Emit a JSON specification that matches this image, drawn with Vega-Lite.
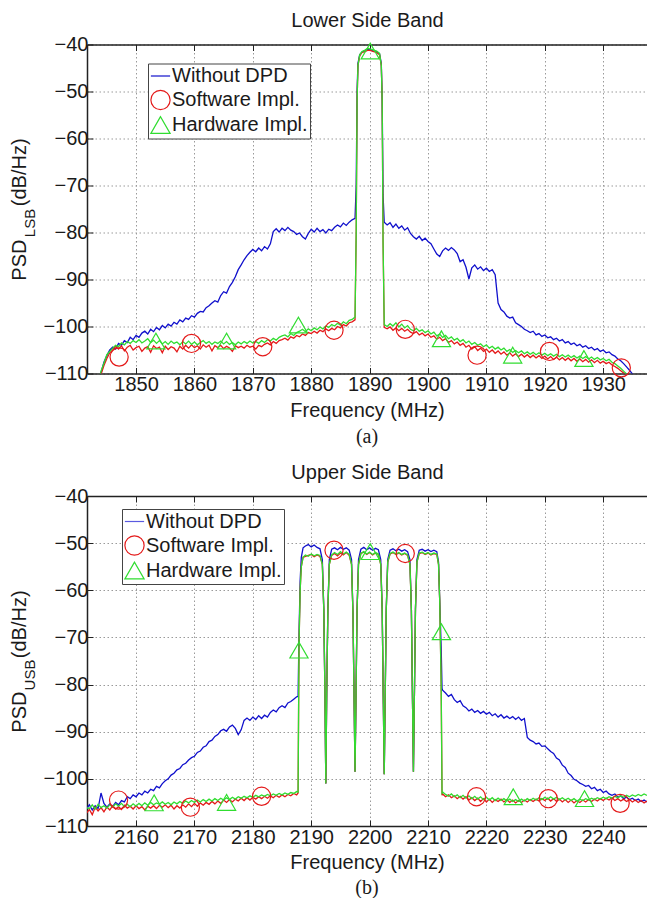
{
  "$schema": "https://vega.github.io/schema/vega-lite/v6.json",
  "background": "white",
  "padding": {"left": 9, "top": 10.5, "right": 0, "bottom": 0},
  "spacing": 14.5,
  "config": {
    "view": {"stroke": null},
    "font": "Liberation Sans",
    "axis": {
      "labelFont": "Liberation Sans", "labelFontSize": 20, "labelColor": "#1a1a1a",
      "titleFont": "Liberation Sans", "titleFontSize": 20, "titleFontWeight": "normal", "titleColor": "#1a1a1a",
      "domainColor": "#222", "domainWidth": 1.5, "tickColor": "#222", "tickSize": -6, "tickWidth": 1,
      "gridColor": "#9a9a9a", "gridDash": [1.5, 2.5], "gridWidth": 1, "gridOpacity": 1
    }
  },
  "resolve": {"scale": {"color": "independent", "shape": "independent", "stroke": "independent"}},
  "vconcat": [
    {
      "width": 560, "height": 329,
      "title": {"text": "(a)", "orient": "bottom", "font": "Liberation Serif", "fontSize": 20, "fontWeight": "normal", "color": "#1a1a1a", "offset": 7},
      "resolve": {"axis": {"x": "independent", "y": "independent"}},
      "layer": [
        {
          "data": {"values": [
            {"f":1843.5,"w":-112,"s":-112.5,"h":-112},
            {"f":1844.0,"w":-109.8,"s":-110.2,"h":-109.5},
            {"f":1844.5,"w":-107.6,"s":-108.3,"h":-107.8},
            {"f":1845.0,"w":-106.2,"s":-106.8,"h":-106.0},
            {"f":1845.5,"w":-105.0,"s":-105.6,"h":-105.3},
            {"f":1846.0,"w":-104.4,"s":-105.0,"h":-104.6},
            {"f":1846.5,"w":-104.8,"s":-104.2,"h":-104.0},
            {"f":1847.0,"w":-103.6,"s":-104.8,"h":-104.3},
            {"f":1847.5,"w":-104.0,"s":-104.1,"h":-103.5},
            {"f":1848.0,"w":-103.0,"s":-105.2,"h":-103.9},
            {"f":1848.5,"w":-103.4,"s":-104.4,"h":-103.2},
            {"f":1849.0,"w":-102.3,"s":-104.0,"h":-103.6},
            {"f":1849.5,"w":-102.8,"s":-105.0,"h":-103.0},
            {"f":1850.0,"w":-101.9,"s":-104.5,"h":-103.4},
            {"f":1850.5,"w":-102.3,"s":-104.2,"h":-102.8},
            {"f":1851.0,"w":-101.4,"s":-105.3,"h":-103.5},
            {"f":1851.5,"w":-101.0,"s":-104.6,"h":-103.1},
            {"f":1852.0,"w":-101.6,"s":-104.3,"h":-102.6},
            {"f":1852.5,"w":-100.6,"s":-105.5,"h":-103.4},
            {"f":1853.0,"w":-101.1,"s":-104.1,"h":-102.9},
            {"f":1853.5,"w":-100.2,"s":-104.7,"h":-103.6},
            {"f":1854.0,"w":-100.7,"s":-104.4,"h":-103.0},
            {"f":1854.5,"w":-99.8,"s":-105.6,"h":-103.7},
            {"f":1855.0,"w":-100.3,"s":-104.2,"h":-103.2},
            {"f":1855.5,"w":-99.5,"s":-104.9,"h":-103.8},
            {"f":1856.0,"w":-99.9,"s":-104.3,"h":-103.1},
            {"f":1856.5,"w":-99.1,"s":-104.6,"h":-103.6},
            {"f":1857.0,"w":-99.5,"s":-105.4,"h":-103.3},
            {"f":1857.5,"w":-98.6,"s":-104.2,"h":-103.9},
            {"f":1858.0,"w":-99.0,"s":-104.8,"h":-103.2},
            {"f":1858.5,"w":-98.2,"s":-104.0,"h":-103.7},
            {"f":1859.0,"w":-98.5,"s":-104.6,"h":-103.1},
            {"f":1859.5,"w":-97.7,"s":-103.9,"h":-103.8},
            {"f":1860.0,"w":-98.0,"s":-104.5,"h":-103.3},
            {"f":1860.5,"w":-97.2,"s":-104.1,"h":-103.9},
            {"f":1861.0,"w":-96.8,"s":-104.8,"h":-103.4},
            {"f":1861.5,"w":-96.9,"s":-103.9,"h":-103.0},
            {"f":1862.0,"w":-96.0,"s":-104.4,"h":-103.6},
            {"f":1862.5,"w":-95.6,"s":-104.0,"h":-103.2},
            {"f":1863.0,"w":-95.0,"s":-105.2,"h":-103.8},
            {"f":1863.5,"w":-94.5,"s":-104.1,"h":-103.3},
            {"f":1864.0,"w":-94.8,"s":-104.5,"h":-103.6},
            {"f":1864.5,"w":-93.4,"s":-104.0,"h":-103.1},
            {"f":1865.0,"w":-92.6,"s":-104.7,"h":-103.7},
            {"f":1865.5,"w":-92.9,"s":-104.2,"h":-103.2},
            {"f":1866.0,"w":-91.5,"s":-104.6,"h":-103.8},
            {"f":1866.5,"w":-90.6,"s":-105.3,"h":-103.4},
            {"f":1867.0,"w":-89.4,"s":-104.1,"h":-103.9},
            {"f":1867.5,"w":-87.9,"s":-104.5,"h":-103.3},
            {"f":1868.0,"w":-86.9,"s":-104.2,"h":-103.7},
            {"f":1868.5,"w":-85.8,"s":-104.6,"h":-103.2},
            {"f":1869.0,"w":-84.9,"s":-104.0,"h":-103.6},
            {"f":1869.5,"w":-84.2,"s":-104.4,"h":-103.1},
            {"f":1870.0,"w":-83.6,"s":-104.2,"h":-103.5},
            {"f":1870.5,"w":-84.1,"s":-104.8,"h":-103.2},
            {"f":1871.0,"w":-83.3,"s":-104.0,"h":-103.6},
            {"f":1871.5,"w":-83.9,"s":-104.3,"h":-103.0},
            {"f":1872.0,"w":-83.0,"s":-103.8,"h":-103.4},
            {"f":1872.5,"w":-83.5,"s":-103.5,"h":-102.8},
            {"f":1873.0,"w":-82.4,"s":-103.9,"h":-103.1},
            {"f":1873.5,"w":-79.8,"s":-103.2,"h":-102.5},
            {"f":1874.0,"w":-79.2,"s":-103.6,"h":-102.9},
            {"f":1874.5,"w":-79.9,"s":-103.0,"h":-102.3},
            {"f":1875.0,"w":-79.1,"s":-102.8,"h":-102.0},
            {"f":1875.5,"w":-79.6,"s":-102.5,"h":-101.8},
            {"f":1876.0,"w":-78.9,"s":-102.9,"h":-102.2},
            {"f":1876.5,"w":-79.5,"s":-102.2,"h":-101.5},
            {"f":1877.0,"w":-79.8,"s":-102.5,"h":-101.9},
            {"f":1877.5,"w":-80.4,"s":-101.9,"h":-101.3},
            {"f":1878.0,"w":-80.1,"s":-102.2,"h":-101.0},
            {"f":1878.5,"w":-80.9,"s":-101.6,"h":-100.6},
            {"f":1879.0,"w":-81.4,"s":-101.9,"h":-101.1},
            {"f":1879.5,"w":-80.2,"s":-101.3,"h":-100.5},
            {"f":1880.0,"w":-79.3,"s":-101.5,"h":-100.9},
            {"f":1880.5,"w":-79.9,"s":-101.0,"h":-100.3},
            {"f":1881.0,"w":-79.1,"s":-101.4,"h":-100.7},
            {"f":1881.5,"w":-79.8,"s":-100.8,"h":-100.1},
            {"f":1882.0,"w":-79.4,"s":-101.1,"h":-100.5},
            {"f":1882.5,"w":-80.1,"s":-100.5,"h":-99.9},
            {"f":1883.0,"w":-79.3,"s":-100.9,"h":-100.2},
            {"f":1883.5,"w":-79.6,"s":-100.4,"h":-99.6},
            {"f":1884.0,"w":-78.9,"s":-100.7,"h":-99.9},
            {"f":1884.5,"w":-78.4,"s":-100.0,"h":-99.3},
            {"f":1885.0,"w":-78.8,"s":-100.3,"h":-99.7},
            {"f":1885.5,"w":-78.0,"s":-99.6,"h":-99.0},
            {"f":1886.0,"w":-78.5,"s":-99.9,"h":-99.4},
            {"f":1886.5,"w":-77.8,"s":-99.2,"h":-98.7},
            {"f":1887.0,"w":-77.3,"s":-99.0,"h":-98.5},
            {"f":1887.5,"w":-77.0,"s":-98.6,"h":-98.0},
            {"f":1887.7,"w":-70,"s":-80,"h":-80},
            {"f":1887.85,"w":-50,"s":-52,"h":-52},
            {"f":1888.0,"w":-44,"s":-44.5,"h":-44.5},
            {"f":1888.3,"w":-42.2,"s":-42.4,"h":-42.2},
            {"f":1888.7,"w":-41.6,"s":-41.7,"h":-41.5},
            {"f":1889.2,"w":-41.3,"s":-41.5,"h":-41.2},
            {"f":1889.7,"w":-41.0,"s":-41.2,"h":-40.8},
            {"f":1890.2,"w":-41.2,"s":-41.3,"h":-41.0},
            {"f":1890.7,"w":-41.4,"s":-41.5,"h":-41.2},
            {"f":1891.2,"w":-41.5,"s":-41.7,"h":-41.4},
            {"f":1891.7,"w":-42.0,"s":-42.2,"h":-41.9},
            {"f":1892.0,"w":-44,"s":-44.5,"h":-44.5},
            {"f":1892.15,"w":-52,"s":-52,"h":-52},
            {"f":1892.3,"w":-72,"s":-82,"h":-82},
            {"f":1892.5,"w":-77.8,"s":-100.2,"h":-99.6},
            {"f":1893.0,"w":-78.4,"s":-100.5,"h":-100.0},
            {"f":1893.5,"w":-77.9,"s":-100.1,"h":-99.4},
            {"f":1894.0,"w":-78.9,"s":-100.8,"h":-99.9},
            {"f":1894.5,"w":-78.2,"s":-100.3,"h":-99.2},
            {"f":1895.0,"w":-79.1,"s":-100.9,"h":-100.1},
            {"f":1895.5,"w":-78.6,"s":-100.4,"h":-99.5},
            {"f":1896.0,"w":-79.5,"s":-101.0,"h":-100.3},
            {"f":1896.5,"w":-79.0,"s":-100.6,"h":-99.8},
            {"f":1897.0,"w":-80.2,"s":-101.2,"h":-100.6},
            {"f":1897.5,"w":-80.9,"s":-101.5,"h":-100.9},
            {"f":1898.0,"w":-81.4,"s":-101.1,"h":-100.4},
            {"f":1898.5,"w":-80.8,"s":-101.8,"h":-101.0},
            {"f":1899.0,"w":-81.7,"s":-101.4,"h":-100.7},
            {"f":1899.5,"w":-81.2,"s":-102.0,"h":-101.3},
            {"f":1900.0,"w":-81.9,"s":-101.6,"h":-100.9},
            {"f":1900.5,"w":-82.4,"s":-102.3,"h":-101.6},
            {"f":1901.0,"w":-83.5,"s":-102.0,"h":-101.2},
            {"f":1901.5,"w":-84.6,"s":-102.7,"h":-102.0},
            {"f":1902.0,"w":-85.1,"s":-102.3,"h":-101.6},
            {"f":1902.5,"w":-83.9,"s":-103.0,"h":-102.3},
            {"f":1903.0,"w":-83.3,"s":-102.6,"h":-101.9},
            {"f":1903.5,"w":-83.8,"s":-103.4,"h":-102.6},
            {"f":1904.0,"w":-83.2,"s":-103.0,"h":-102.2},
            {"f":1904.5,"w":-83.7,"s":-103.7,"h":-102.9},
            {"f":1905.0,"w":-84.5,"s":-103.3,"h":-102.5},
            {"f":1905.5,"w":-86.2,"s":-104.0,"h":-103.2},
            {"f":1906.0,"w":-85.8,"s":-103.6,"h":-102.8},
            {"f":1906.5,"w":-87.4,"s":-104.4,"h":-103.5},
            {"f":1907.0,"w":-89.9,"s":-104.0,"h":-103.1},
            {"f":1907.5,"w":-87.5,"s":-104.8,"h":-103.8},
            {"f":1908.0,"w":-86.9,"s":-104.3,"h":-103.4},
            {"f":1908.5,"w":-87.8,"s":-105.1,"h":-104.0},
            {"f":1909.0,"w":-87.3,"s":-104.6,"h":-103.7},
            {"f":1909.5,"w":-88.1,"s":-105.3,"h":-104.3},
            {"f":1910.0,"w":-87.6,"s":-104.8,"h":-103.9},
            {"f":1910.5,"w":-88.3,"s":-105.5,"h":-104.6},
            {"f":1911.0,"w":-87.9,"s":-105.0,"h":-104.2},
            {"f":1911.5,"w":-89.0,"s":-105.7,"h":-104.8},
            {"f":1912.0,"w":-95.0,"s":-105.2,"h":-104.4},
            {"f":1912.5,"w":-96.4,"s":-105.9,"h":-105.0},
            {"f":1913.0,"w":-96.9,"s":-105.4,"h":-104.6},
            {"f":1913.5,"w":-97.8,"s":-106.1,"h":-105.3},
            {"f":1914.0,"w":-98.2,"s":-105.6,"h":-104.9},
            {"f":1914.5,"w":-98.0,"s":-106.3,"h":-105.5},
            {"f":1915.0,"w":-99.2,"s":-105.8,"h":-105.1},
            {"f":1915.5,"w":-99.6,"s":-106.4,"h":-105.6},
            {"f":1916.0,"w":-100.0,"s":-105.9,"h":-105.2},
            {"f":1916.5,"w":-100.6,"s":-106.5,"h":-105.8},
            {"f":1917.0,"w":-100.9,"s":-106.0,"h":-105.4},
            {"f":1917.5,"w":-101.3,"s":-106.6,"h":-105.9},
            {"f":1918.0,"w":-101.0,"s":-106.1,"h":-105.5},
            {"f":1918.5,"w":-101.8,"s":-106.7,"h":-106.0},
            {"f":1919.0,"w":-101.5,"s":-106.2,"h":-105.6},
            {"f":1919.5,"w":-102.1,"s":-106.8,"h":-106.1},
            {"f":1920.0,"w":-101.8,"s":-106.3,"h":-105.7},
            {"f":1920.5,"w":-102.4,"s":-106.9,"h":-106.2},
            {"f":1921.0,"w":-102.2,"s":-106.4,"h":-105.8},
            {"f":1921.5,"w":-102.8,"s":-107.0,"h":-106.3},
            {"f":1922.0,"w":-102.5,"s":-106.5,"h":-105.9},
            {"f":1922.5,"w":-103.1,"s":-107.1,"h":-106.4},
            {"f":1923.0,"w":-102.8,"s":-106.6,"h":-106.0},
            {"f":1923.5,"w":-103.5,"s":-107.2,"h":-106.5},
            {"f":1924.0,"w":-103.2,"s":-106.7,"h":-106.1},
            {"f":1924.5,"w":-103.8,"s":-107.3,"h":-106.6},
            {"f":1925.0,"w":-103.5,"s":-106.8,"h":-106.2},
            {"f":1925.5,"w":-104.1,"s":-107.4,"h":-106.7},
            {"f":1926.0,"w":-103.8,"s":-106.9,"h":-106.3},
            {"f":1926.5,"w":-104.4,"s":-107.5,"h":-106.8},
            {"f":1927.0,"w":-104.1,"s":-107.0,"h":-106.4},
            {"f":1927.5,"w":-104.7,"s":-107.6,"h":-106.9},
            {"f":1928.0,"w":-104.4,"s":-107.1,"h":-106.5},
            {"f":1928.5,"w":-105.0,"s":-107.7,"h":-107.0},
            {"f":1929.0,"w":-104.7,"s":-107.2,"h":-106.6},
            {"f":1929.5,"w":-105.3,"s":-107.8,"h":-107.1},
            {"f":1930.0,"w":-105.0,"s":-107.4,"h":-106.8},
            {"f":1930.5,"w":-105.6,"s":-107.9,"h":-107.3},
            {"f":1931.0,"w":-105.4,"s":-107.6,"h":-107.0},
            {"f":1931.5,"w":-106.0,"s":-108.2,"h":-107.6},
            {"f":1932.0,"w":-106.3,"s":-108.5,"h":-107.9},
            {"f":1932.5,"w":-106.9,"s":-108.9,"h":-108.4},
            {"f":1933.0,"w":-107.3,"s":-109.4,"h":-108.9},
            {"f":1933.5,"w":-107.9,"s":-109.9,"h":-109.5},
            {"f":1934.0,"w":-108.6,"s":-110.5,"h":-110.1},
            {"f":1934.5,"w":-109.3,"s":-111.2,"h":-110.8},
            {"f":1935.0,"w":-110.1,"s":-112,"h":-111.5},
            {"f":1935.5,"w":-111,"s":-113,"h":-112.5}
          ]},
          "transform": [{"fold": ["w", "s", "h"], "as": ["k", "v"]}],
          "mark": {"type": "line", "strokeWidth": 1.3, "clip": true},
          "encoding": {
            "x": {"field": "f", "type": "quantitative",
                  "scale": {"domain": [1841.6, 1937.5], "nice": false, "zero": false},
                  "axis": {"orient": "bottom", "values": [1850,1860,1870,1880,1890,1900,1910,1920,1930], "format": "d", "grid": true, "labelPadding": 7, "title": "Frequency (MHz)", "titlePadding": 5.5}},
            "y": {"field": "v", "type": "quantitative",
                  "scale": {"domain": [-110, -40], "nice": false, "zero": false},
                  "axis": {"orient": "left", "values": [-110,-100,-90,-80,-70,-60,-50,-40], "grid": true, "labelPadding": 5,
                           "title": "PSD\u00a0\u00a0\u00a0\u00a0\u00a0\u00a0(dB/Hz)", "titleAngle": -90, "titleAlign": "center", "titleBaseline": "middle", "titleX": -68, "titleY": 164.5}},
            "stroke": {"field": "k", "type": "nominal", "scale": {"domain": ["w", "s", "h"], "range": ["#1010cc", "#e41a1a", "#30dd30"]}, "legend": null}
          }
        },
        {
          "data": {"values": [
            {"f":1847.1,"v":-106.5,"k":"Software Impl."},
            {"f":1859.5,"v":-103.6,"k":"Software Impl."},
            {"f":1871.7,"v":-104.3,"k":"Software Impl."},
            {"f":1883.9,"v":-100.8,"k":"Software Impl."},
            {"f":1896.1,"v":-100.6,"k":"Software Impl."},
            {"f":1908.4,"v":-106.1,"k":"Software Impl."},
            {"f":1920.8,"v":-105.3,"k":"Software Impl."},
            {"f":1933.1,"v":-108.8,"k":"Software Impl."},
            {"f":1853.4,"v":-103.1,"k":"Hardware Impl."},
            {"f":1865.5,"v":-103.1,"k":"Hardware Impl."},
            {"f":1877.8,"v":-99.7,"k":"Hardware Impl."},
            {"f":1890.1,"v":-41.4,"k":"Hardware Impl."},
            {"f":1902.3,"v":-102.6,"k":"Hardware Impl."},
            {"f":1914.5,"v":-106.1,"k":"Hardware Impl."},
            {"f":1926.7,"v":-106.8,"k":"Hardware Impl."}
          ]},
          "mark": {"type": "point", "filled": false, "strokeWidth": 1.2, "size": 330, "opacity": 1},
          "encoding": {
            "x": {"field": "f", "type": "quantitative",
                  "scale": {"domain": [1841.6, 1937.5], "nice": false, "zero": false},
                  "axis": {"orient": "top", "values": [1850,1860,1870,1880,1890,1900,1910,1920,1930], "labels": false, "grid": false, "title": "Lower Side Band", "titlePadding": 13.5}},
            "y": {"field": "v", "type": "quantitative",
                  "scale": {"domain": [-110, -40], "nice": false, "zero": false},
                  "axis": {"orient": "right", "labels": false, "ticks": false, "domain": false, "grid": false,
                           "title": "LSB", "titleFontSize": 15, "titleAngle": -90, "titleAlign": "center", "titleBaseline": "middle", "titleX": -618, "titleY": 178}},
            "color": {"field": "k", "type": "nominal",
                      "scale": {"domain": ["Without DPD", "Software Impl.", "Hardware Impl."], "range": ["#1010cc", "#e41a1a", "#30dd30"]},
                      "legend": {"title": null, "orient": "none", "legendX": 61, "legendY": 19, "strokeColor": "#444", "fillColor": "white", "padding": 2, "rowPadding": 1, "labelOffset": 1, "labelFont": "Liberation Sans", "labelFontSize": 20, "labelColor": "#1a1a1a", "symbolSize": 370, "symbolStrokeWidth": 1.2}},
            "shape": {"field": "k", "type": "nominal",
                      "scale": {"domain": ["Without DPD", "Software Impl.", "Hardware Impl."], "range": ["stroke", "circle", "triangle-up"]},
                      "legend": {"title": null, "orient": "none", "legendX": 61, "legendY": 19, "strokeColor": "#444", "fillColor": "white", "padding": 2, "rowPadding": 1, "labelOffset": 1, "labelFont": "Liberation Sans", "labelFontSize": 20, "labelColor": "#1a1a1a", "symbolSize": 370, "symbolStrokeWidth": 1.2}}
          }
        }
      ]
    },
    {
      "width": 560, "height": 330,
      "title": {"text": "(b)", "orient": "bottom", "font": "Liberation Serif", "fontSize": 20, "fontWeight": "normal", "color": "#1a1a1a", "offset": 5},
      "resolve": {"axis": {"x": "independent", "y": "independent"}},
      "layer": [
        {
          "data": {"values": [
            {"f":2151.5,"w":-106.4,"s":-107.3,"h":-106.1},
            {"f":2152.0,"w":-105.5,"s":-106.5,"h":-106.3},
            {"f":2152.5,"w":-106.6,"s":-107.6,"h":-105.5},
            {"f":2153.0,"w":-105.7,"s":-106.0,"h":-106.4},
            {"f":2153.5,"w":-106.3,"s":-106.8,"h":-105.4},
            {"f":2154.0,"w":-103.0,"s":-106.1,"h":-106.1},
            {"f":2154.5,"w":-105.2,"s":-107.0,"h":-105.7},
            {"f":2155.0,"w":-106.0,"s":-106.0,"h":-106.2},
            {"f":2155.5,"w":-105.3,"s":-106.6,"h":-105.5},
            {"f":2156.0,"w":-105.9,"s":-105.7,"h":-106.0},
            {"f":2156.5,"w":-105.0,"s":-106.4,"h":-105.3},
            {"f":2157.0,"w":-105.5,"s":-105.9,"h":-105.8},
            {"f":2157.5,"w":-104.6,"s":-106.5,"h":-105.2},
            {"f":2158.0,"w":-104.9,"s":-105.6,"h":-105.9},
            {"f":2158.5,"w":-103.8,"s":-106.2,"h":-105.4},
            {"f":2159.0,"w":-104.2,"s":-105.8,"h":-105.9},
            {"f":2159.5,"w":-103.4,"s":-106.4,"h":-105.3},
            {"f":2160.0,"w":-103.8,"s":-105.7,"h":-105.8},
            {"f":2160.5,"w":-103.0,"s":-106.3,"h":-105.2},
            {"f":2161.0,"w":-103.4,"s":-105.9,"h":-105.7},
            {"f":2161.5,"w":-102.6,"s":-106.6,"h":-105.1},
            {"f":2162.0,"w":-103.0,"s":-105.8,"h":-105.6},
            {"f":2162.5,"w":-102.2,"s":-106.2,"h":-105.0},
            {"f":2163.0,"w":-102.5,"s":-105.7,"h":-105.5},
            {"f":2163.5,"w":-101.6,"s":-106.3,"h":-105.1},
            {"f":2164.0,"w":-101.9,"s":-105.6,"h":-105.4},
            {"f":2164.5,"w":-101.0,"s":-106.0,"h":-104.9},
            {"f":2165.0,"w":-100.4,"s":-105.5,"h":-105.4},
            {"f":2165.5,"w":-100.0,"s":-106.1,"h":-105.0},
            {"f":2166.0,"w":-99.2,"s":-105.6,"h":-105.5},
            {"f":2166.5,"w":-98.8,"s":-106.4,"h":-104.9},
            {"f":2167.0,"w":-98.1,"s":-105.7,"h":-105.3},
            {"f":2167.5,"w":-97.8,"s":-106.2,"h":-104.8},
            {"f":2168.0,"w":-97.0,"s":-105.5,"h":-105.2},
            {"f":2168.5,"w":-96.7,"s":-106.0,"h":-104.7},
            {"f":2169.0,"w":-96.0,"s":-105.3,"h":-105.1},
            {"f":2169.5,"w":-95.5,"s":-105.9,"h":-104.6},
            {"f":2170.0,"w":-95.2,"s":-105.2,"h":-105.0},
            {"f":2170.5,"w":-94.4,"s":-105.8,"h":-104.5},
            {"f":2171.0,"w":-94.1,"s":-105.1,"h":-104.9},
            {"f":2171.5,"w":-93.3,"s":-105.6,"h":-104.4},
            {"f":2172.0,"w":-93.0,"s":-105.0,"h":-104.8},
            {"f":2172.5,"w":-92.1,"s":-105.4,"h":-104.3},
            {"f":2173.0,"w":-91.8,"s":-104.8,"h":-104.7},
            {"f":2173.5,"w":-91.0,"s":-105.3,"h":-104.2},
            {"f":2174.0,"w":-90.6,"s":-104.7,"h":-104.6},
            {"f":2174.5,"w":-89.8,"s":-105.2,"h":-104.1},
            {"f":2175.0,"w":-89.5,"s":-104.5,"h":-104.5},
            {"f":2175.5,"w":-89.9,"s":-105.0,"h":-104.0},
            {"f":2176.0,"w":-89.0,"s":-104.4,"h":-104.4},
            {"f":2176.5,"w":-88.6,"s":-104.9,"h":-103.9},
            {"f":2177.0,"w":-89.3,"s":-104.3,"h":-104.3},
            {"f":2177.5,"w":-90.6,"s":-104.7,"h":-103.8},
            {"f":2178.0,"w":-89.6,"s":-104.1,"h":-104.1},
            {"f":2178.5,"w":-87.6,"s":-104.6,"h":-103.7},
            {"f":2179.0,"w":-87.1,"s":-104.0,"h":-104.0},
            {"f":2179.5,"w":-87.6,"s":-104.5,"h":-103.6},
            {"f":2180.0,"w":-86.9,"s":-103.9,"h":-103.9},
            {"f":2180.5,"w":-87.4,"s":-104.3,"h":-103.5},
            {"f":2181.0,"w":-86.6,"s":-103.8,"h":-103.8},
            {"f":2181.5,"w":-87.2,"s":-104.2,"h":-103.4},
            {"f":2182.0,"w":-86.5,"s":-103.7,"h":-103.7},
            {"f":2182.5,"w":-86.9,"s":-104.1,"h":-103.3},
            {"f":2183.0,"w":-85.9,"s":-103.6,"h":-103.6},
            {"f":2183.5,"w":-85.4,"s":-104.0,"h":-103.2},
            {"f":2184.0,"w":-85.8,"s":-103.5,"h":-103.5},
            {"f":2184.5,"w":-84.9,"s":-103.9,"h":-103.1},
            {"f":2185.0,"w":-84.5,"s":-103.4,"h":-103.4},
            {"f":2185.5,"w":-84.9,"s":-103.8,"h":-103.0},
            {"f":2186.0,"w":-83.9,"s":-103.3,"h":-103.3},
            {"f":2186.5,"w":-83.6,"s":-103.6,"h":-102.9},
            {"f":2187.0,"w":-83.1,"s":-103.1,"h":-103.1},
            {"f":2187.5,"w":-82.6,"s":-103.4,"h":-102.7},
            {"f":2187.75,"w":-82.5,"s":-103.0,"h":-102.8},
            {"f":2187.9,"w":-70,"s":-72,"h":-72},
            {"f":2188.1,"w":-58,"s":-60,"h":-60},
            {"f":2188.3,"w":-53,"s":-55,"h":-55},
            {"f":2188.6,"w":-51.0,"s":-53.0,"h":-53.0},
            {"f":2189.0,"w":-50.6,"s":-52.8,"h":-52.5},
            {"f":2189.5,"w":-50.3,"s":-52.6,"h":-52.8},
            {"f":2190.0,"w":-50.8,"s":-52.4,"h":-52.3},
            {"f":2190.5,"w":-50.4,"s":-52.9,"h":-52.7},
            {"f":2191.0,"w":-50.9,"s":-52.5,"h":-52.4},
            {"f":2191.5,"w":-51.2,"s":-52.8,"h":-52.6},
            {"f":2191.9,"w":-53.5,"s":-54.5,"h":-54.5},
            {"f":2192.15,"w":-64,"s":-64,"h":-64},
            {"f":2192.35,"w":-82,"s":-82,"h":-82},
            {"f":2192.5,"w":-101,"s":-101,"h":-101},
            {"f":2192.65,"w":-82,"s":-82,"h":-82},
            {"f":2192.85,"w":-64,"s":-64,"h":-64},
            {"f":2193.1,"w":-53.5,"s":-54.5,"h":-54.5},
            {"f":2193.5,"w":-51.3,"s":-52.6,"h":-52.5},
            {"f":2194.0,"w":-51.0,"s":-52.2,"h":-52.0},
            {"f":2194.5,"w":-51.4,"s":-52.7,"h":-52.4},
            {"f":2195.0,"w":-50.9,"s":-52.1,"h":-51.8},
            {"f":2195.5,"w":-51.3,"s":-52.5,"h":-52.3},
            {"f":2196.0,"w":-51.0,"s":-52.0,"h":-51.9},
            {"f":2196.5,"w":-51.5,"s":-52.6,"h":-52.4},
            {"f":2196.9,"w":-53.5,"s":-54.5,"h":-54.5},
            {"f":2197.15,"w":-65,"s":-65,"h":-65},
            {"f":2197.35,"w":-84,"s":-84,"h":-84},
            {"f":2197.5,"w":-98.5,"s":-98.5,"h":-98.5},
            {"f":2197.65,"w":-84,"s":-84,"h":-84},
            {"f":2197.85,"w":-64,"s":-64,"h":-64},
            {"f":2198.1,"w":-53.5,"s":-54.5,"h":-54.5},
            {"f":2198.5,"w":-51.3,"s":-52.2,"h":-52.2},
            {"f":2199.0,"w":-50.9,"s":-51.9,"h":-51.8},
            {"f":2199.5,"w":-51.4,"s":-52.4,"h":-52.3},
            {"f":2200.0,"w":-51.0,"s":-52.0,"h":-51.9},
            {"f":2200.5,"w":-51.5,"s":-52.5,"h":-52.4},
            {"f":2201.0,"w":-51.1,"s":-52.1,"h":-52.0},
            {"f":2201.5,"w":-51.4,"s":-52.4,"h":-52.3},
            {"f":2201.9,"w":-53.5,"s":-54.5,"h":-54.5},
            {"f":2202.15,"w":-64,"s":-64,"h":-64},
            {"f":2202.35,"w":-84,"s":-84,"h":-84},
            {"f":2202.5,"w":-99,"s":-99,"h":-99},
            {"f":2202.65,"w":-84,"s":-84,"h":-84},
            {"f":2202.85,"w":-64,"s":-64,"h":-64},
            {"f":2203.1,"w":-53.5,"s":-54,"h":-54},
            {"f":2203.5,"w":-51.5,"s":-52.3,"h":-52.2},
            {"f":2204.0,"w":-51.2,"s":-52.0,"h":-51.9},
            {"f":2204.5,"w":-51.6,"s":-52.4,"h":-52.3},
            {"f":2205.0,"w":-51.3,"s":-52.1,"h":-52.0},
            {"f":2205.5,"w":-51.7,"s":-52.5,"h":-52.4},
            {"f":2206.0,"w":-51.4,"s":-52.2,"h":-52.1},
            {"f":2206.5,"w":-51.8,"s":-52.6,"h":-52.5},
            {"f":2206.9,"w":-53.5,"s":-54.5,"h":-54.5},
            {"f":2207.15,"w":-64,"s":-64,"h":-64},
            {"f":2207.35,"w":-84,"s":-84,"h":-84},
            {"f":2207.5,"w":-98.5,"s":-98.5,"h":-98.5},
            {"f":2207.65,"w":-84,"s":-84,"h":-84},
            {"f":2207.85,"w":-64,"s":-64,"h":-64},
            {"f":2208.1,"w":-53.5,"s":-54,"h":-54},
            {"f":2208.5,"w":-51.5,"s":-52.2,"h":-52.1},
            {"f":2209.0,"w":-51.3,"s":-52.0,"h":-51.9},
            {"f":2209.5,"w":-51.7,"s":-52.4,"h":-52.3},
            {"f":2210.0,"w":-51.4,"s":-52.1,"h":-52.0},
            {"f":2210.5,"w":-51.8,"s":-52.5,"h":-52.4},
            {"f":2211.0,"w":-51.5,"s":-52.2,"h":-52.1},
            {"f":2211.5,"w":-51.8,"s":-52.4,"h":-52.3},
            {"f":2211.8,"w":-54,"s":-54.5,"h":-54.5},
            {"f":2212.0,"w":-62,"s":-62,"h":-62},
            {"f":2212.25,"w":-72,"s":-80,"h":-80},
            {"f":2212.4,"w":-80.8,"s":-103.5,"h":-103.0},
            {"f":2212.5,"w":-81.2,"s":-103.2,"h":-102.8},
            {"f":2213.0,"w":-81.8,"s":-103.8,"h":-103.3},
            {"f":2213.5,"w":-82.5,"s":-103.4,"h":-103.7},
            {"f":2214.0,"w":-82.1,"s":-104.0,"h":-103.2},
            {"f":2214.5,"w":-83.2,"s":-103.6,"h":-103.8},
            {"f":2215.0,"w":-83.8,"s":-104.2,"h":-103.4},
            {"f":2215.5,"w":-83.4,"s":-103.7,"h":-104.0},
            {"f":2216.0,"w":-84.5,"s":-104.3,"h":-103.5},
            {"f":2216.5,"w":-84.9,"s":-103.8,"h":-104.1},
            {"f":2217.0,"w":-85.6,"s":-104.5,"h":-103.6},
            {"f":2217.5,"w":-85.2,"s":-104.0,"h":-104.2},
            {"f":2218.0,"w":-85.9,"s":-104.6,"h":-103.7},
            {"f":2218.5,"w":-85.5,"s":-104.1,"h":-104.3},
            {"f":2219.0,"w":-86.1,"s":-104.8,"h":-103.8},
            {"f":2219.5,"w":-85.7,"s":-104.2,"h":-104.4},
            {"f":2220.0,"w":-86.3,"s":-104.9,"h":-103.9},
            {"f":2220.5,"w":-85.9,"s":-104.3,"h":-104.5},
            {"f":2221.0,"w":-86.6,"s":-105.0,"h":-104.0},
            {"f":2221.5,"w":-86.2,"s":-104.4,"h":-104.6},
            {"f":2222.0,"w":-86.9,"s":-104.8,"h":-104.1},
            {"f":2222.5,"w":-86.4,"s":-104.3,"h":-104.6},
            {"f":2223.0,"w":-87.1,"s":-104.9,"h":-104.2},
            {"f":2223.5,"w":-86.7,"s":-104.4,"h":-104.7},
            {"f":2224.0,"w":-87.2,"s":-105.0,"h":-104.3},
            {"f":2224.5,"w":-86.8,"s":-104.5,"h":-104.8},
            {"f":2225.0,"w":-87.4,"s":-105.1,"h":-104.4},
            {"f":2225.5,"w":-86.9,"s":-104.6,"h":-104.8},
            {"f":2226.0,"w":-87.6,"s":-105.0,"h":-104.3},
            {"f":2226.5,"w":-87.2,"s":-104.5,"h":-104.7},
            {"f":2227.0,"w":-91.2,"s":-104.9,"h":-104.2},
            {"f":2227.5,"w":-91.8,"s":-104.4,"h":-104.6},
            {"f":2228.0,"w":-92.1,"s":-104.8,"h":-104.1},
            {"f":2228.5,"w":-92.6,"s":-104.3,"h":-104.5},
            {"f":2229.0,"w":-92.4,"s":-104.7,"h":-104.0},
            {"f":2229.5,"w":-93.1,"s":-104.2,"h":-104.4},
            {"f":2230.0,"w":-93.0,"s":-104.6,"h":-103.9},
            {"f":2230.5,"w":-93.6,"s":-104.1,"h":-104.3},
            {"f":2231.0,"w":-94.2,"s":-104.7,"h":-103.8},
            {"f":2231.5,"w":-94.6,"s":-104.2,"h":-104.3},
            {"f":2232.0,"w":-95.6,"s":-104.8,"h":-103.9},
            {"f":2232.5,"w":-96.0,"s":-104.3,"h":-104.4},
            {"f":2233.0,"w":-97.1,"s":-104.9,"h":-104.0},
            {"f":2233.5,"w":-97.6,"s":-104.4,"h":-104.5},
            {"f":2234.0,"w":-98.8,"s":-105.0,"h":-104.1},
            {"f":2234.5,"w":-99.3,"s":-104.5,"h":-104.6},
            {"f":2235.0,"w":-100.1,"s":-105.1,"h":-104.2},
            {"f":2235.5,"w":-100.4,"s":-104.6,"h":-104.7},
            {"f":2236.0,"w":-100.9,"s":-105.0,"h":-104.3},
            {"f":2236.5,"w":-101.2,"s":-104.5,"h":-104.6},
            {"f":2237.0,"w":-101.6,"s":-104.9,"h":-104.2},
            {"f":2237.5,"w":-101.4,"s":-104.4,"h":-104.5},
            {"f":2238.0,"w":-102.1,"s":-104.8,"h":-104.1},
            {"f":2238.5,"w":-101.8,"s":-104.3,"h":-104.4},
            {"f":2239.0,"w":-102.5,"s":-104.7,"h":-104.0},
            {"f":2239.5,"w":-102.2,"s":-104.2,"h":-104.3},
            {"f":2240.0,"w":-102.9,"s":-104.6,"h":-103.9},
            {"f":2240.5,"w":-102.6,"s":-104.1,"h":-104.2},
            {"f":2241.0,"w":-103.2,"s":-104.5,"h":-103.8},
            {"f":2241.5,"w":-103.5,"s":-104.0,"h":-104.1},
            {"f":2242.0,"w":-103.2,"s":-104.6,"h":-103.7},
            {"f":2242.5,"w":-103.9,"s":-104.2,"h":-104.0},
            {"f":2243.0,"w":-103.6,"s":-104.7,"h":-103.6},
            {"f":2243.5,"w":-104.2,"s":-104.3,"h":-103.9},
            {"f":2244.0,"w":-103.9,"s":-104.8,"h":-103.5},
            {"f":2244.5,"w":-104.4,"s":-104.4,"h":-103.8},
            {"f":2245.0,"w":-104.1,"s":-104.9,"h":-103.4},
            {"f":2245.5,"w":-104.6,"s":-104.5,"h":-103.7},
            {"f":2246.0,"w":-104.3,"s":-105.0,"h":-103.3},
            {"f":2246.5,"w":-104.8,"s":-104.6,"h":-103.6},
            {"f":2247.0,"w":-104.5,"s":-105.1,"h":-103.2},
            {"f":2247.5,"w":-104.9,"s":-104.7,"h":-103.5}
          ]},
          "transform": [{"fold": ["w", "s", "h"], "as": ["k", "v"]}],
          "mark": {"type": "line", "strokeWidth": 1.3, "clip": true},
          "encoding": {
            "x": {"field": "f", "type": "quantitative",
                  "scale": {"domain": [2151.6, 2247.5], "nice": false, "zero": false},
                  "axis": {"orient": "bottom", "values": [2160,2170,2180,2190,2200,2210,2220,2230,2240], "format": "d", "grid": true, "labelPadding": 7, "title": "Frequency (MHz)", "titlePadding": 5.5}},
            "y": {"field": "v", "type": "quantitative",
                  "scale": {"domain": [-110, -40], "nice": false, "zero": false},
                  "axis": {"orient": "left", "values": [-110,-100,-90,-80,-70,-60,-50,-40], "grid": true, "labelPadding": 5,
                           "title": "PSD\u00a0\u00a0\u00a0\u00a0\u00a0\u00a0(dB/Hz)", "titleAngle": -90, "titleAlign": "center", "titleBaseline": "middle", "titleX": -68, "titleY": 165}},
            "stroke": {"field": "k", "type": "nominal", "scale": {"domain": ["w", "s", "h"], "range": ["#1010cc", "#e41a1a", "#30dd30"]}, "legend": null}
          }
        },
        {
          "data": {"values": [
            {"f":2157.0,"v":-104.5,"k":"Software Impl."},
            {"f":2169.3,"v":-106.0,"k":"Software Impl."},
            {"f":2181.5,"v":-103.7,"k":"Software Impl."},
            {"f":2193.9,"v":-51.5,"k":"Software Impl."},
            {"f":2206.1,"v":-52.2,"k":"Software Impl."},
            {"f":2218.3,"v":-103.8,"k":"Software Impl."},
            {"f":2230.6,"v":-104.2,"k":"Software Impl."},
            {"f":2242.9,"v":-105.2,"k":"Software Impl."},
            {"f":2163.1,"v":-105.1,"k":"Hardware Impl."},
            {"f":2175.5,"v":-105.0,"k":"Hardware Impl."},
            {"f":2187.9,"v":-72.7,"k":"Hardware Impl."},
            {"f":2200.1,"v":-51.8,"k":"Hardware Impl."},
            {"f":2212.3,"v":-68.8,"k":"Hardware Impl."},
            {"f":2224.6,"v":-103.8,"k":"Hardware Impl."},
            {"f":2236.8,"v":-104.2,"k":"Hardware Impl."}
          ]},
          "mark": {"type": "point", "filled": false, "strokeWidth": 1.2, "size": 330, "opacity": 1},
          "encoding": {
            "x": {"field": "f", "type": "quantitative",
                  "scale": {"domain": [2151.6, 2247.5], "nice": false, "zero": false},
                  "axis": {"orient": "top", "values": [2160,2170,2180,2190,2200,2210,2220,2230,2240], "labels": false, "grid": false, "title": "Upper Side Band", "titlePadding": 13.5}},
            "y": {"field": "v", "type": "quantitative",
                  "scale": {"domain": [-110, -40], "nice": false, "zero": false},
                  "axis": {"orient": "right", "labels": false, "ticks": false, "domain": false, "grid": false,
                           "title": "USB", "titleFontSize": 15, "titleAngle": -90, "titleAlign": "center", "titleBaseline": "middle", "titleX": -618, "titleY": 178.5}},
            "color": {"field": "k", "type": "nominal",
                      "scale": {"domain": ["Without DPD", "Software Impl.", "Hardware Impl."], "range": ["#5a5ae0", "#e41a1a", "#30dd30"]},
                      "legend": {"title": null, "orient": "none", "legendX": 35, "legendY": 13, "strokeColor": "#444", "fillColor": "white", "padding": 2, "rowPadding": 1, "labelOffset": 1, "labelFont": "Liberation Sans", "labelFontSize": 20, "labelColor": "#1a1a1a", "symbolSize": 370, "symbolStrokeWidth": 1.2}},
            "shape": {"field": "k", "type": "nominal",
                      "scale": {"domain": ["Without DPD", "Software Impl.", "Hardware Impl."], "range": ["stroke", "circle", "triangle-up"]},
                      "legend": {"title": null, "orient": "none", "legendX": 35, "legendY": 13, "strokeColor": "#444", "fillColor": "white", "padding": 2, "rowPadding": 1, "labelOffset": 1, "labelFont": "Liberation Sans", "labelFontSize": 20, "labelColor": "#1a1a1a", "symbolSize": 370, "symbolStrokeWidth": 1.2}}
          }
        }
      ]
    }
  ]
}
